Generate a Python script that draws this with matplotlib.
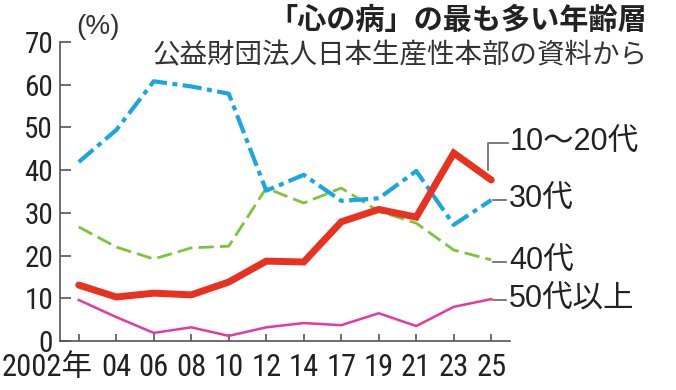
import matplotlib.pyplot as plt
from matplotlib.transforms import ScaledTranslation

plt.rcParams['font.family'] = ['Roboto Condensed', 'Noto Sans CJK JP', 'DejaVu Sans']

# Data
years = ["2002年", "04", "06", "08", "10", "12", "14", "17", "19", "21", "23", "25"]
teens_20s = [13.1, 10.3, 11.2, 10.8, 13.8, 18.7, 18.5, 27.9, 30.8, 29.0, 44.0, 37.7]
thirties = [41.9, 49.4, 60.8, 59.6, 57.9, 35.2, 38.9, 32.8, 33.4, 39.8, 27.2, 33.0]
forties = [26.7, 22.0, 19.2, 21.8, 22.2, 35.8, 32.3, 35.8, 30.4, 27.6, 21.3, 19.0]
fifties_up = [9.6, 5.6, 1.9, 3.2, 1.2, 3.2, 4.2, 3.7, 6.5, 3.5, 8.0, 9.8]
labels = ["10～20代", "30代", "40代", "50代以上"]
label_y = [46.4, 33.0, 18.6, 9.7]

x = list(range(len(years)))

fig = plt.figure(figsize=(6.76, 3.9), dpi=100)
ax = fig.add_axes([60 / 676, 1 - 341 / 390, 450 / 676, 299 / 390])

ax.plot(x, fifties_up, color='#e5399b', lw=1.8, zorder=2)
ax.plot(x, forties, color='#7cc43a', lw=2.0, dashes=[5.5, 2.2], zorder=3)
ax.plot(x, thirties, color='#1aa6e0', lw=3.0, dashes=[4.6, 1.3, 1.2, 1.3], zorder=4)
ax.plot(x, teens_20s, color='#e8311f', lw=5.0, solid_capstyle='round',
        solid_joinstyle='miter', zorder=5)

ax.set_xlim(-0.5, 11.5)
ax.set_ylim(0, 70)
ax.set_yticks(range(0, 71, 10))
ax.set_xticks(x)
ax.set_xticklabels(years)
for s in ['top', 'right']:
    ax.spines[s].set_visible(False)
for s in ['left', 'bottom']:
    ax.spines[s].set_color('#555555')
    ax.spines[s].set_linewidth(1.2)
ax.tick_params(axis='both', direction='in', colors='#555555', labelcolor='#222222', width=1.2)
ax.tick_params(axis='y', length=8, pad=5, labelsize=21)
ax.tick_params(axis='x', length=5, pad=9, labelsize=22)

# first label ("2002年") sits mostly left of its tick
first = ax.get_xticklabels()[0]
first.set_horizontalalignment('right')
first.set_transform(first.get_transform() + ScaledTranslation(14 / 100, 0, fig.dpi_scale_trans))

# leader lines and series labels
lc = '#666666'
ax.plot([10.9, 10.9, 11.45], [40.0, label_y[0], label_y[0]], color=lc, lw=1.2, clip_on=False)
for yy in label_y[1:]:
    ax.plot([11.05, 11.4], [yy, yy], color=lc, lw=1.2, clip_on=False)
for lab, yy in zip(labels, label_y):
    ax.text(11.48, yy, lab, fontsize=22, color='#222222', va='center', ha='left',
            family=['Liberation Sans', 'Noto Sans CJK JP'])

ax.text(-0.08, 70.5, "(%)", fontsize=20, color='#333333', ha='left', va='bottom',
        family=['Liberation Sans', 'Noto Sans CJK JP'])

fig.text(647 / 676, 1 - 20 / 390, "「心の病」の最も多い年齢層", fontsize=21, fontweight='bold',
         ha='right', va='center', color='#222222', family=['Noto Sans CJK JP'])
fig.text(648 / 676, 1 - 56 / 390, "公益財団法人日本生産性本部の資料から", fontsize=19.8,
         ha='right', va='center', color='#333333', family=['Noto Sans CJK JP'])

fig.savefig("out.png", dpi=100)
